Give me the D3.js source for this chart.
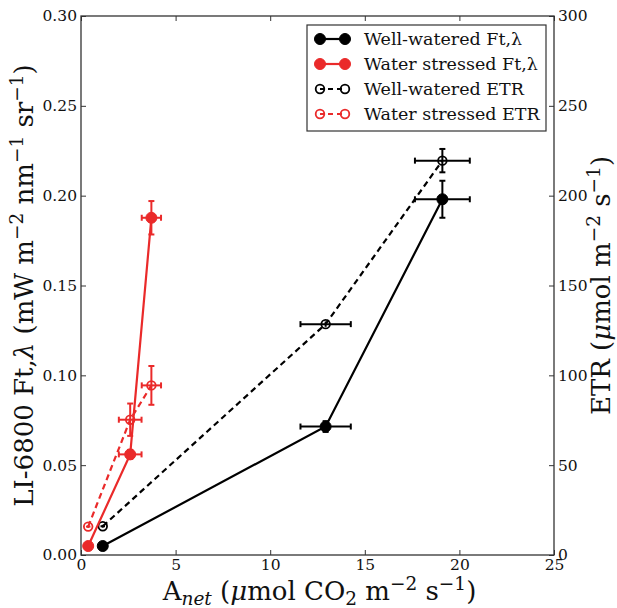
<!DOCTYPE html>
<html>
<head>
<meta charset="utf-8">
<script src="https://cdn.jsdelivr.net/npm/d3@7"></script>
<style>
  body { margin: 0; background: #fff; }
  text { font-family: "DejaVu Serif", serif; fill: #111; }
</style>
</head>
<body>
<script>
// values
var anetWW = [1.15, 12.93, 19.1];
var anetWWErr = [0.12, 1.33, 1.45];
var ftWW = [0.005, 0.0715, 0.198];
var ftWWErr = [0.0008, 0.003, 0.0103];
var etrWW = [16, 128.5, 219.5];
var etrWWErr = [0.8, 1.5, 6.5];

var anetWS = [0.38, 2.6, 3.72];
var anetWSErr = [0.12, 0.6, 0.51];
var ftWS = [0.005, 0.056, 0.1877];
var ftWSErr = [0.0008, 0.0025, 0.0093];
var etrWS = [15.8, 75.3, 94.4];
var etrWSErr = [0.8, 9, 10.8];

var xTicks = [0, 5, 10, 15, 20, 25];
var yTicks = [0, 0.05, 0.10, 0.15, 0.20, 0.25, 0.30];
var y2Ticks = [0, 50, 100, 150, 200, 250, 300];

var legendLabels = ["Well-watered Ft,λ", "Water stressed Ft,λ", "Well-watered ETR", "Water stressed ETR"];

var svgWidth = 617, svgHeight = 608;
var margin = { top: 16, right: 63, bottom: 53, left: 81 };
var width = svgWidth - margin.left - margin.right;
var height = svgHeight - margin.top - margin.bottom;

var black = "#000", red = "#ea2a2a";
var serif = "'DejaVu Serif', serif";

var svg = d3.select("body").append("svg")
  .attr("width", svgWidth)
  .attr("height", svgHeight)
  .attr("font-family", serif);

var g = svg.append("g")
  .attr("transform", "translate(" + margin.left + "," + margin.top + ")");

var x = d3.scaleLinear().domain([0, 25]).range([0, width]);
var y = d3.scaleLinear().domain([0, 0.30]).range([height, 0]);
var y2 = d3.scaleLinear().domain([0, 300]).range([height, 0]);

// axes, ticks pointing inwards
function styleAxis(sel) {
  sel.attr("font-family", serif);
  sel.select(".domain").remove();
  sel.selectAll(".tick line").attr("stroke", "#333").attr("stroke-width", 1);
  sel.selectAll(".tick text").style("font-size", "15.5px").attr("fill", "#111");
}

g.append("g").attr("transform", "translate(0," + height + ")")
  .call(d3.axisBottom(x).tickValues(xTicks).tickSize(-5).tickPadding(4).tickFormat(d3.format("d")))
  .call(styleAxis);
g.append("g")
  .call(d3.axisTop(x).tickValues(xTicks).tickSize(-5).tickFormat(""))
  .call(styleAxis);
g.append("g")
  .call(d3.axisLeft(y).tickValues(yTicks).tickSize(-5).tickPadding(4).tickFormat(d3.format(".2f")))
  .call(styleAxis);
g.append("g").attr("transform", "translate(" + width + ",0)")
  .call(d3.axisRight(y2).tickValues(y2Ticks).tickSize(-5).tickPadding(4).tickFormat(d3.format("d")))
  .call(styleAxis);

g.append("rect")
  .attr("width", width).attr("height", height)
  .attr("fill", "none").attr("stroke", "#333").attr("stroke-width", 1.3);

// series
function drawSeries(xs, xe, ys, ye, yScale, color, dashed, filled) {
  var pts = xs.map(function(v, i) { return { x: v, xe: xe[i], y: ys[i], ye: ye[i] }; });
  var s = g.append("g");

  s.append("path")
    .datum(pts)
    .attr("fill", "none")
    .attr("stroke", color)
    .attr("stroke-width", 2.2)
    .attr("stroke-dasharray", dashed ? "6,4" : null)
    .attr("d", d3.line().x(function(d) { return x(d.x); }).y(function(d) { return yScale(d.y); }));

  var eb = s.selectAll(".eb").data(pts).enter().append("g")
    .attr("stroke", color).attr("stroke-width", 2);
  eb.append("line")
    .attr("x1", function(d) { return x(d.x - d.xe); })
    .attr("x2", function(d) { return x(d.x + d.xe); })
    .attr("y1", function(d) { return yScale(d.y); })
    .attr("y2", function(d) { return yScale(d.y); });
  eb.append("line")
    .attr("x1", function(d) { return x(d.x); })
    .attr("x2", function(d) { return x(d.x); })
    .attr("y1", function(d) { return yScale(d.y - d.ye); })
    .attr("y2", function(d) { return yScale(d.y + d.ye); });
  // caps
  [-1, 1].forEach(function(sgn) {
    eb.filter(function(d) { return x(d.xe) - x(0) > 4; }).append("line")
      .attr("x1", function(d) { return x(d.x + sgn * d.xe); })
      .attr("x2", function(d) { return x(d.x + sgn * d.xe); })
      .attr("y1", function(d) { return yScale(d.y) - 3; })
      .attr("y2", function(d) { return yScale(d.y) + 3; });
    eb.filter(function(d) { return yScale(0) - yScale(d.ye) > 4; }).append("line")
      .attr("x1", function(d) { return x(d.x) - 3; })
      .attr("x2", function(d) { return x(d.x) + 3; })
      .attr("y1", function(d) { return yScale(d.y + sgn * d.ye); })
      .attr("y2", function(d) { return yScale(d.y + sgn * d.ye); });
  });

  s.selectAll("circle").data(pts).enter().append("circle")
    .attr("cx", function(d) { return x(d.x); })
    .attr("cy", function(d) { return yScale(d.y); })
    .attr("r", filled ? 5.5 : 4.3)
    .attr("fill", filled ? color : "none")
    .attr("stroke", color)
    .attr("stroke-width", filled ? 1 : 1.8);
}

drawSeries(anetWW, anetWWErr, etrWW, etrWWErr, y2, black, true, false);
drawSeries(anetWS, anetWSErr, etrWS, etrWSErr, y2, red, true, false);
drawSeries(anetWW, anetWWErr, ftWW, ftWWErr, y, black, false, true);
drawSeries(anetWS, anetWSErr, ftWS, ftWSErr, y, red, false, true);

// legend
var legend = svg.append("g").attr("transform", "translate(307,25)");
legend.append("rect")
  .attr("width", 239).attr("height", 106)
  .attr("fill", "#fff").attr("stroke", "#333").attr("stroke-width", 1.2);

var legendStyle = [
  { color: black, dashed: false, filled: true },
  { color: red, dashed: false, filled: true },
  { color: black, dashed: true, filled: false },
  { color: red, dashed: true, filled: false }
];

legendLabels.forEach(function(lbl, i) {
  var st = legendStyle[i];
  var row = legend.append("g").attr("transform", "translate(0," + (14 + i * 25) + ")");
  row.append("line")
    .attr("x1", 13).attr("x2", 38).attr("y1", 0).attr("y2", 0)
    .attr("stroke", st.color).attr("stroke-width", 2.2)
    .attr("stroke-dasharray", st.dashed ? "5,4" : null)
    .attr("stroke-dashoffset", st.dashed ? -8 : 0);
  [13, 38].forEach(function(cx) {
    row.append("circle")
      .attr("cx", cx).attr("cy", 0)
      .attr("r", st.filled ? 5.5 : 4.3)
      .attr("fill", st.filled ? st.color : "none")
      .attr("stroke", st.color)
      .attr("stroke-width", st.filled ? 1 : 1.8);
  });
  row.append("text")
    .attr("x", 57).attr("y", 0).attr("dy", "0.35em")
    .attr("font-family", serif)
    .style("font-size", "17.5px")
    .text(lbl);
});

// axis titles
var big = "26px", sub = "18.5px";

var xl = svg.append("text")
  .attr("x", margin.left + width / 2 + 2)
  .attr("y", 600)
  .attr("text-anchor", "middle")
  .style("font-size", big);
xl.append("tspan").text("A");
xl.append("tspan").attr("font-style", "italic").attr("font-size", sub).attr("dy", 5).text("net");
xl.append("tspan").attr("dy", -5).text(" (");
xl.append("tspan").attr("font-style", "italic").text("μ");
xl.append("tspan").text("mol CO");
xl.append("tspan").attr("font-size", sub).attr("dy", 5).text("2");
xl.append("tspan").attr("dy", -5).text(" m");
xl.append("tspan").attr("font-size", sub).attr("dy", -10).text("−2");
xl.append("tspan").attr("dy", 10).text(" s");
xl.append("tspan").attr("font-size", sub).attr("dy", -10).text("−1");
xl.append("tspan").attr("dy", 10).text(")");

var yl = svg.append("text")
  .attr("transform", "translate(33," + (margin.top + height / 2) + ") rotate(-90)")
  .attr("text-anchor", "middle")
  .style("font-size", big);
yl.append("tspan").text("LI-6800 Ft,");
yl.append("tspan").attr("font-style", "italic").text("λ");
yl.append("tspan").text(" (mW m");
yl.append("tspan").attr("font-size", sub).attr("dy", -10).text("−2");
yl.append("tspan").attr("dy", 10).text(" nm");
yl.append("tspan").attr("font-size", sub).attr("dy", -10).text("−1");
yl.append("tspan").attr("dy", 10).text(" sr");
yl.append("tspan").attr("font-size", sub).attr("dy", -10).text("−1");
yl.append("tspan").attr("dy", 10).text(")");

var y2l = svg.append("text")
  .attr("transform", "translate(610," + (margin.top + height / 2) + ") rotate(-90)")
  .attr("text-anchor", "middle")
  .style("font-size", big);
y2l.append("tspan").text("ETR (");
y2l.append("tspan").attr("font-style", "italic").text("μ");
y2l.append("tspan").text("mol m");
y2l.append("tspan").attr("font-size", sub).attr("dy", -10).text("−2");
y2l.append("tspan").attr("dy", 10).text(" s");
y2l.append("tspan").attr("font-size", sub).attr("dy", -10).text("−1");
y2l.append("tspan").attr("dy", 10).text(")");
</script>
</body>
</html>
